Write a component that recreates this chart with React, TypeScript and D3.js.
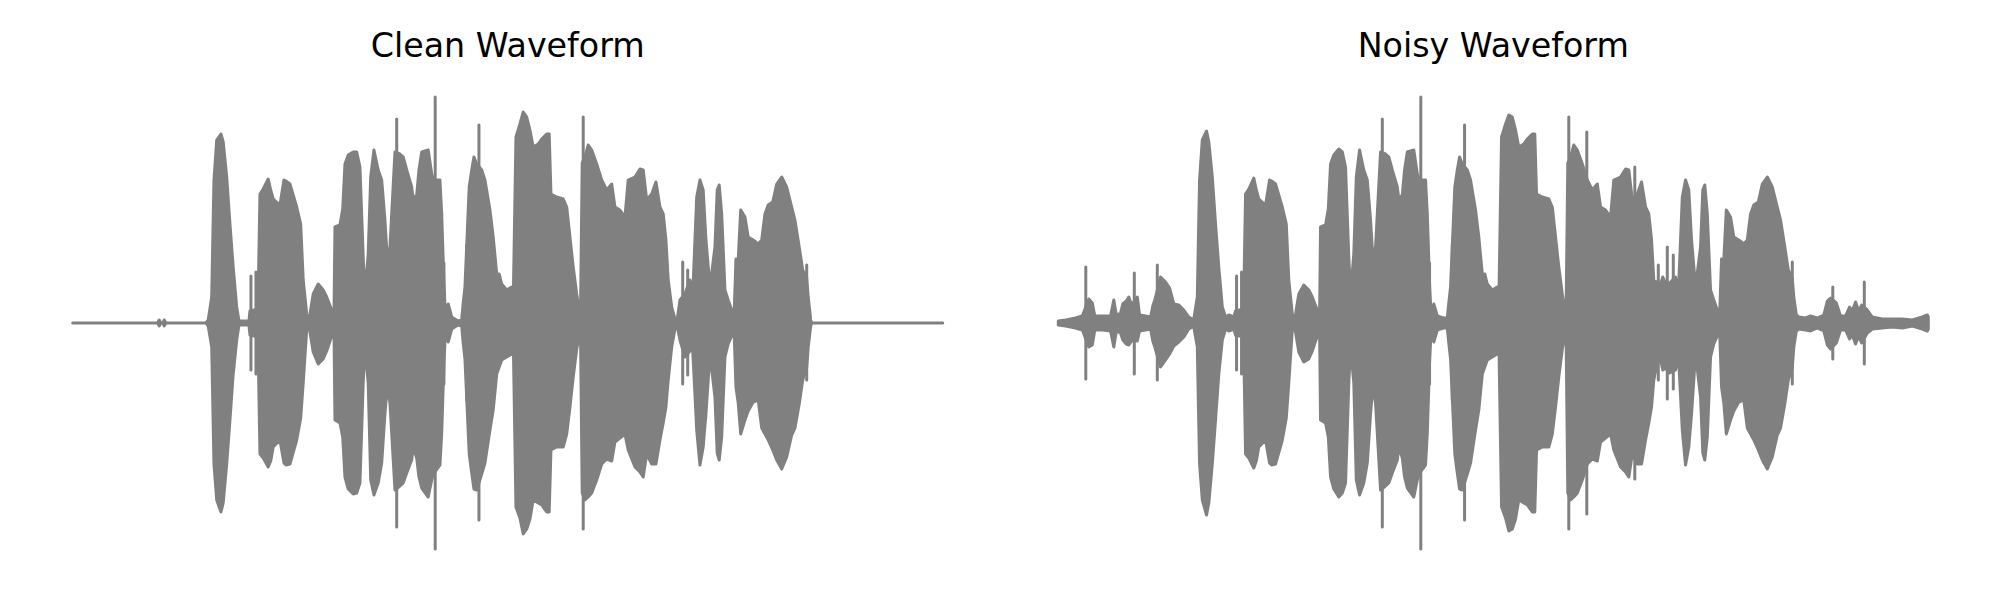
import * as React from 'react';
import * as d3 from 'd3';

const figureWidth = 2000;
const figureHeight = 600;
const panelLefts = [72.7, 1058.3];
const panelWidth = 870;
const centreY = 323;
const halfHeight = 250;
const waveColour = '#808080';
const lineWidth = 3;
const titleY = 57;

const titles = ['Clean Waveform', 'Noisy Waveform'];
const clipLengthMs = 3480;

// [time ms, upper amplitude, lower amplitude]
type Envelope = Array<[number, number, number]>;

const cleanEnvelope: Envelope = [
    [0, 0, 0], [339, 0, 0], [346, .012, .012], [353, 0, 0], [361, 0, 0], [366, .012, .012], [373, 0, 0],
    [533, 0, 0], [542, .012, .012], [556, .104, .096], [565, .572, .564], [576, .732, .708], [593, .756, .756],
    [602, .724, .720], [616, .584, .564], [629, .396, .388], [642, .224, .204], [656, .064, .068], [665, .008, .008],
    [705, .008, .008], [709, .048, .048], [741, .056, .056], [749, .516, .524], [762, .536, .540], [782, .576, .576],
    [792, .532, .552], [802, .496, .496], [829, .472, .468], [845, .572, .560], [853, .568, .568], [869, .556, .564],
    [896, .464, .468], [912, .396, .380], [922, .172, .240], [936, .036, .028], [942, .008, .008], [949, .036, .036],
    [962, .116, .116], [982, .156, .164], [1002, .132, .144], [1016, .104, .112], [1036, .052, .052], [1045, .012, .012],
    [1049, .384, .388], [1069, .392, .400], [1080, .456, .456], [1089, .636, .616], [1102, .672, .664], [1122, .684, .684],
    [1136, .684, .680], [1149, .624, .640], [1162, .264, .240], [1169, .116, .096], [1182, .276, .240], [1192, .584, .628],
    [1205, .692, .688], [1222, .612, .640], [1236, .572, .560], [1249, .412, .364], [1258, .264, .256], [1269, .304, .320],
    [1289, .684, .668], [1309, .676, .652], [1322, .664, .640], [1336, .612, .600], [1356, .544, .548], [1362, .496, .496],
    [1376, .512, .540], [1385, .612, .616], [1396, .684, .660], [1422, .692, .696], [1436, .596, .628], [1445, .572, .600],
    [1469, .572, .568], [1476, .436, .440], [1485, .160, .160], [1489, .076, .076], [1496, .048, .048], [1502, .076, .076],
    [1516, .024, .024], [1541, .008, .008], [1556, .012, .012], [1562, .080, .080], [1569, .144, .144], [1586, .544, .524],
    [1596, .612, .600], [1605, .664, .664], [1616, .636, .668], [1636, .612, .604], [1649, .572, .560], [1669, .452, .428],
    [1682, .344, .348], [1696, .196, .204], [1706, .196, .176], [1716, .156, .148], [1736, .132, .136], [1756, .144, .124],
    [1762, .076, .056], [1773, .744, .736], [1789, .796, .780], [1802, .844, .844], [1816, .824, .824], [1829, .772, .784],
    [1842, .704, .708], [1862, .716, .720], [1876, .736, .728], [1896, .756, .756], [1906, .756, .756], [1913, .516, .508],
    [1936, .504, .496], [1962, .496, .496], [1976, .464, .444], [1989, .344, .336], [2002, .224, .216], [2016, .116, .104],
    [2026, .052, .056], [2031, .020, .020], [2038, .640, .680], [2049, .664, .708], [2062, .712, .696], [2076, .692, .680],
    [2096, .636, .628], [2116, .572, .564], [2136, .532, .544], [2156, .556, .552], [2169, .464, .476], [2189, .452, .460],
    [2209, .424, .444], [2222, .572, .508], [2249, .584, .576], [2269, .616, .596], [2282, .612, .616], [2296, .492, .524],
    [2316, .516, .564], [2333, .564, .564], [2349, .464, .468], [2362, .436, .400], [2373, .332, .336], [2382, .172, .228],
    [2396, .064, .096], [2409, .016, .024], [2417, .008, .008], [2429, .092, .068], [2449, .116, .136], [2469, .172, .112],
    [2480, .112, .108], [2496, .504, .428], [2509, .572, .568], [2522, .532, .496], [2533, .332, .364], [2549, .144, .124],
    [2569, .304, .296], [2578, .532, .520], [2586, .552, .548], [2596, .436, .456], [2609, .132, .136], [2622, .092, .084],
    [2636, .052, .052], [2645, .016, .016], [2653, .256, .256], [2662, .252, .320], [2672, .452, .444], [2689, .424, .388],
    [2702, .344, .352], [2722, .332, .316], [2742, .316, .308], [2756, .332, .420], [2769, .436, .444], [2782, .472, .468],
    [2800, .484, .508], [2816, .556, .548], [2836, .584, .584], [2856, .544, .536], [2876, .464, .448], [2889, .412, .420],
    [2906, .304, .324], [2920, .212, .228], [2936, .180, .180], [2942, .104, .096], [2952, .012, .012], [2957, 0, 0],
    [3480, 0, 0]
];

const cleanSpikes: Envelope = [
    [713, .188, .188], [733, .204, .204], [1296, .816, .816], [1450, .904, .904], [1485, .240, .244],
    [1576, .312, .308], [1625, .792, .788], [2042, .824, .824], [2440, .244, .244], [2460, .212, .208],
    [2936, .232, .228]
];

const noisyEnvelope: Envelope = [
    [0, .008, .008], [29, .012, .012], [69, .020, .020], [96, .028, .028], [122, .096, .096], [136, .080, .088],
    [146, .028, .028], [176, .028, .028], [209, .028, .032], [222, .092, .096], [232, .032, .032], [249, .040, .040],
    [258, .076, .068], [272, .088, .084], [282, .104, .088], [293, .072, .072], [316, .104, .072], [325, .032, .032],
    [349, .028, .028], [369, .024, .024], [378, .068, .072], [386, .092, .096], [409, .184, .176], [429, .164, .148],
    [445, .140, .124], [462, .076, .092], [482, .072, .076], [502, .052, .056], [522, .024, .024], [536, .016, .016],
    [542, .016, .016], [556, .104, .096], [565, .572, .564], [576, .732, .708], [593, .768, .768], [602, .724, .720],
    [616, .584, .564], [629, .396, .388], [642, .224, .204], [656, .064, .068], [669, .024, .024], [682, .032, .032],
    [702, .024, .024], [709, .048, .048], [741, .056, .056], [749, .516, .524], [762, .536, .540], [782, .580, .580],
    [792, .532, .552], [802, .496, .496], [829, .472, .468], [845, .572, .560], [853, .568, .568], [869, .556, .564],
    [896, .464, .468], [912, .396, .380], [922, .172, .240], [936, .036, .028], [942, .020, .020], [949, .036, .036],
    [962, .116, .116], [982, .152, .156], [1002, .132, .144], [1016, .104, .112], [1036, .052, .052], [1045, .024, .024],
    [1049, .384, .388], [1069, .392, .400], [1080, .456, .456], [1089, .636, .616], [1102, .672, .664], [1122, .696, .696],
    [1136, .684, .680], [1149, .624, .640], [1162, .264, .240], [1169, .116, .096], [1182, .276, .240], [1192, .584, .628],
    [1205, .692, .688], [1222, .612, .640], [1236, .572, .560], [1249, .412, .364], [1258, .264, .256], [1269, .304, .320],
    [1289, .684, .668], [1309, .676, .652], [1322, .664, .640], [1336, .612, .600], [1356, .544, .548], [1362, .496, .496],
    [1376, .512, .540], [1385, .612, .616], [1396, .684, .660], [1422, .692, .696], [1436, .596, .628], [1445, .572, .600],
    [1469, .572, .568], [1476, .436, .440], [1485, .160, .160], [1489, .076, .076], [1496, .048, .048], [1502, .076, .076],
    [1516, .028, .028], [1541, .020, .020], [1556, .020, .020], [1562, .080, .080], [1569, .144, .144], [1586, .544, .524],
    [1596, .612, .600], [1605, .664, .664], [1616, .636, .668], [1636, .612, .604], [1649, .572, .560], [1669, .452, .428],
    [1682, .344, .348], [1696, .196, .204], [1706, .196, .176], [1716, .156, .148], [1736, .132, .136], [1756, .144, .124],
    [1762, .076, .056], [1773, .744, .736], [1789, .796, .780], [1802, .832, .832], [1816, .824, .824], [1829, .772, .784],
    [1842, .704, .708], [1862, .716, .720], [1876, .736, .728], [1896, .756, .756], [1906, .756, .756], [1913, .516, .508],
    [1936, .504, .496], [1962, .496, .496], [1976, .464, .444], [1989, .344, .336], [2002, .224, .216], [2016, .116, .104],
    [2026, .052, .056], [2031, .024, .024], [2038, .640, .680], [2049, .664, .708], [2062, .712, .696], [2076, .692, .680],
    [2096, .636, .628], [2116, .572, .564], [2136, .532, .544], [2156, .556, .552], [2169, .464, .476], [2189, .452, .460],
    [2209, .424, .444], [2222, .572, .508], [2249, .584, .576], [2269, .616, .596], [2282, .612, .616], [2296, .492, .524],
    [2316, .516, .564], [2333, .564, .564], [2349, .464, .468], [2362, .436, .400], [2373, .332, .336], [2382, .172, .228],
    [2396, .160, .160], [2409, .156, .148], [2418, .184, .188], [2429, .160, .180], [2445, .160, .200], [2469, .184, .188],
    [2480, .116, .120], [2496, .504, .428], [2509, .572, .568], [2522, .532, .496], [2533, .332, .364], [2549, .144, .124],
    [2569, .304, .296], [2578, .532, .520], [2586, .552, .548], [2596, .436, .456], [2609, .132, .136], [2622, .092, .084],
    [2636, .052, .052], [2645, .024, .024], [2653, .256, .256], [2662, .252, .320], [2672, .452, .444], [2689, .424, .388],
    [2702, .344, .352], [2722, .332, .316], [2742, .316, .308], [2756, .332, .420], [2769, .436, .444], [2782, .472, .468],
    [2800, .484, .508], [2816, .556, .548], [2836, .584, .584], [2856, .544, .536], [2876, .464, .448], [2889, .412, .420],
    [2906, .304, .324], [2920, .212, .228], [2936, .180, .180], [2942, .104, .096], [2952, .032, .032], [2962, .024, .024],
    [2989, .020, .028], [3009, .028, .032], [3036, .020, .020], [3062, .032, .032], [3076, .088, .088], [3089, .100, .104],
    [3112, .080, .080], [3129, .028, .028], [3149, .028, .028], [3165, .064, .064], [3176, .048, .048], [3189, .084, .084],
    [3202, .048, .052], [3213, .072, .080], [3236, .052, .040], [3256, .024, .024], [3296, .016, .020], [3336, .016, .016],
    [3376, .016, .020], [3416, .012, .012], [3456, .024, .024], [3476, .032, .032], [3480, .024, .024]
];

const noisySpikes: Envelope = [
    [110, .224, .224], [304, .200, .204], [396, .232, .228], [713, .188, .188], [733, .204, .204],
    [1296, .816, .816], [1450, .904, .904], [1485, .240, .244], [1576, .312, .308], [1625, .792, .788],
    [2042, .824, .824], [2114, .764, .764], [2306, .624, .624], [2400, .232, .228], [2436, .304, .304],
    [2460, .272, .264], [2936, .244, .244], [3098, .144, .144], [3224, .164, .164]
];

const panelEnvelopes = [cleanEnvelope, noisyEnvelope];
const panelSpikes = [cleanSpikes, noisySpikes];

interface PanelProps {
    title: string,
    envelope: Envelope,
    spikes: Envelope,
    left: number,
}

class WaveformPanel extends React.Component<PanelProps, object> {
    private groupElement: SVGGElement | null = null;

    render() {
        return <g ref={node => { this.groupElement = node; }} />
    }

    componentDidMount() {
        this.drawPanel();
    }

    componentDidUpdate() {
        this.drawPanel();
    }

    private drawPanel() {
        const p = this.props;
        const group = d3.select(this.groupElement);
        group.selectAll('*').remove();

        const xScale = d3.scaleLinear()
            .domain([0, clipLengthMs])
            .range([p.left, p.left + panelWidth]);
        const yScale = d3.scaleLinear()
            .domain([-1, 1])
            .range([centreY + halfHeight, centreY - halfHeight]);

        const area = d3.area<[number, number, number]>()
            .x(d => xScale(d[0]))
            .y0(d => yScale(-d[2]))
            .y1(d => yScale(d[1]));

        group.append('path')
            .datum(p.envelope)
            .attr('d', area)
            .style('fill', waveColour)
            .style('stroke', waveColour)
            .style('stroke-width', lineWidth)
            .style('stroke-linejoin', 'round')
            .style('stroke-linecap', 'round');

        group.selectAll('line.spike')
            .data(p.spikes)
            .enter()
            .append('line')
            .classed('spike', true)
            .attr('x1', d => xScale(d[0]))
            .attr('x2', d => xScale(d[0]))
            .attr('y1', d => yScale(d[1]))
            .attr('y2', d => yScale(-d[2]))
            .style('stroke', waveColour)
            .style('stroke-width', lineWidth)
            .style('stroke-linecap', 'round');

        group.append('text')
            .attr('x', p.left + panelWidth / 2)
            .attr('y', titleY)
            .attr('text-anchor', 'middle')
            .style('font-family', '"DejaVu Sans", sans-serif')
            .style('font-size', '33.3px')
            .style('fill', '#000')
            .text(p.title);
    }
}

export default function App() {
    return <svg
        width={figureWidth}
        height={figureHeight}
        style={{ position: 'absolute', left: 0, top: 0, background: '#fff' }}>
        {titles.map((title, i) =>
            <WaveformPanel
                key={title}
                title={title}
                envelope={panelEnvelopes[i]}
                spikes={panelSpikes[i]}
                left={panelLefts[i]} />
        )}
    </svg>
}
